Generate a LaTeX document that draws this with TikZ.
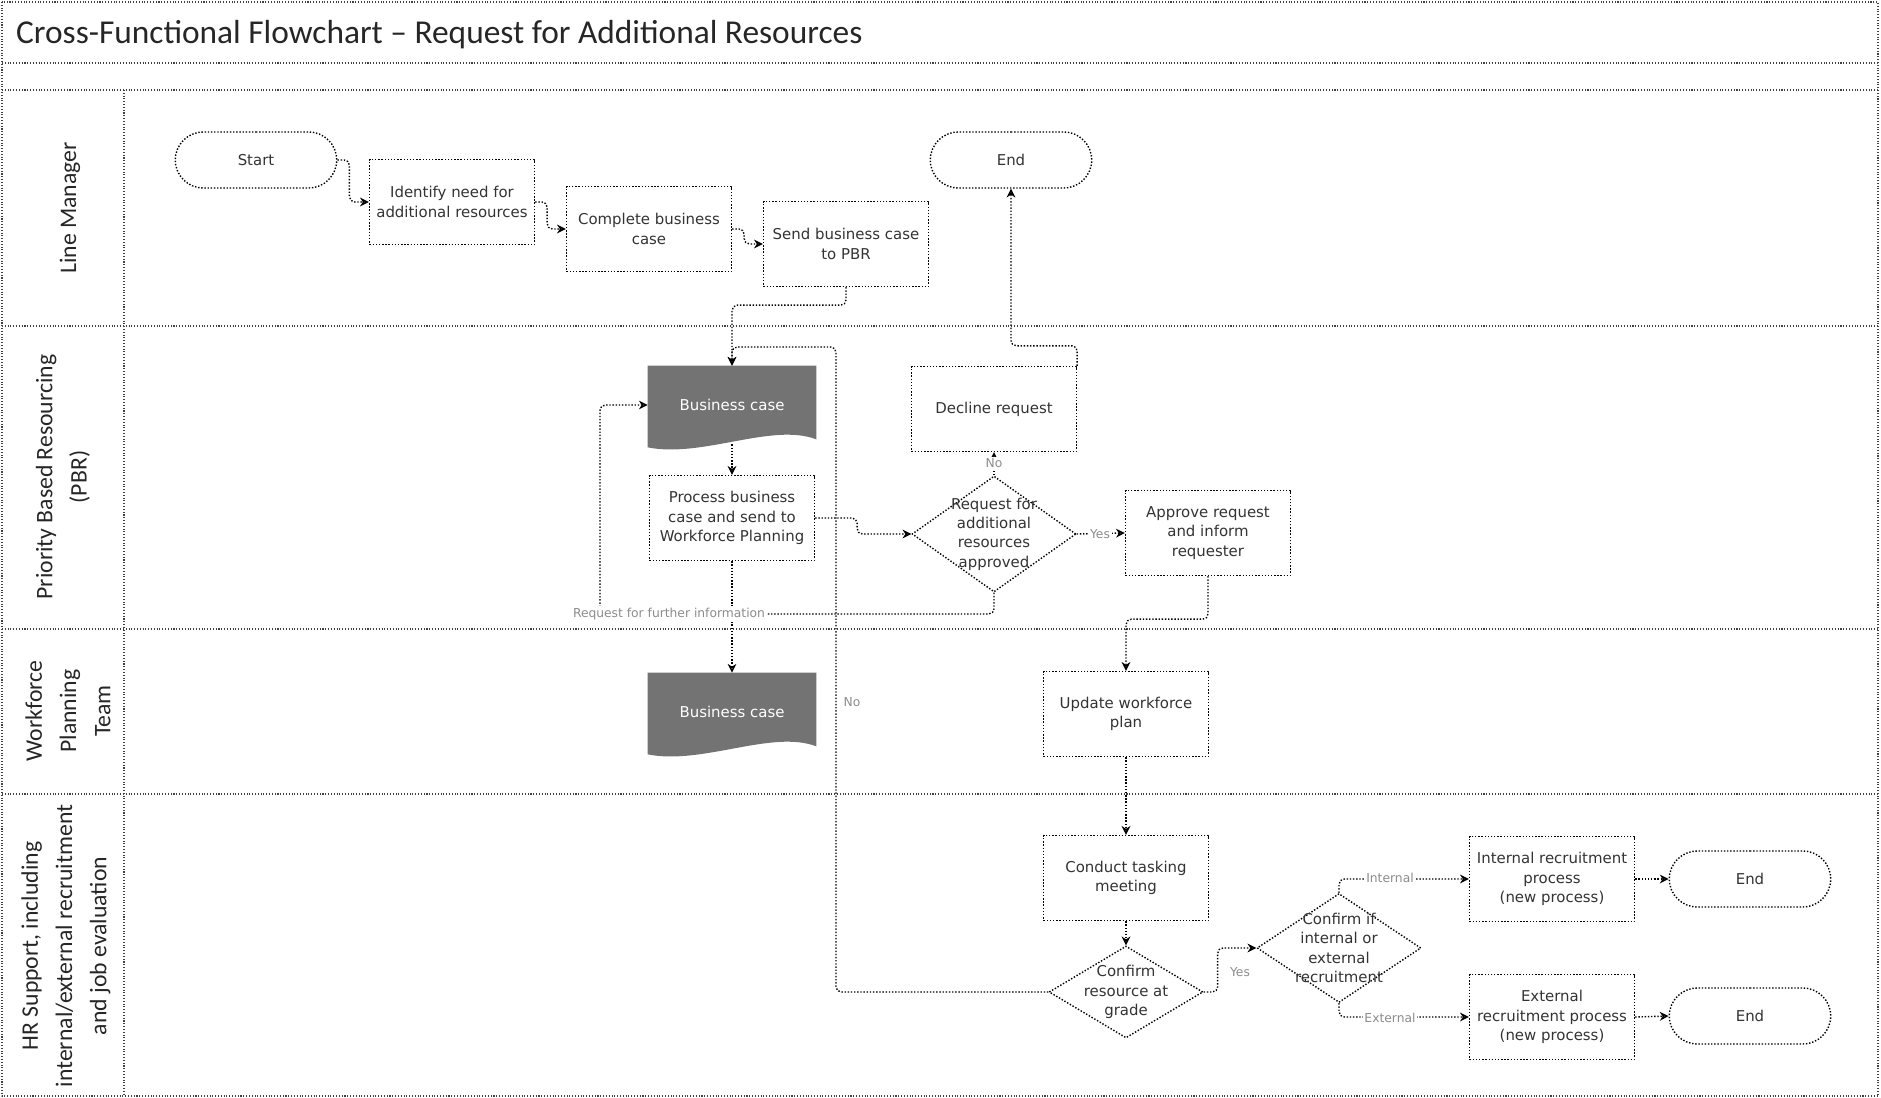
\documentclass[tikz,border=0pt]{standalone}
\usepackage{fontspec}
\setmainfont{Carlito}
\newfontfamily\nodefont{DejaVu Sans}
\usetikzlibrary{arrows.meta,shapes.geometric,shapes.misc,calc,backgrounds}

\begin{document}
\begin{tikzpicture}[x=0.02cm,y=-0.02cm,line join=round,
  >={Stealth[open,length=5pt,width=5pt]},
  lane/.style={densely dotted,line width=0.6pt,black!75},
  lanetxt/.style={rotate=90,align=center,font=\fontsize{13.5}{19.5}\selectfont,text=black!85},
  box/.style={draw,densely dotted,line width=0.8pt,minimum width=3.3cm,minimum height=1.7cm,
    inner xsep=1pt,align=center,font=\nodefont\fontsize{8.5}{11}\selectfont,text=black!80},
  term/.style={box,rounded rectangle,minimum height=1.12cm},
  choice/.style={draw,densely dotted,line width=0.8pt,diamond,inner sep=0pt,minimum width=3.28cm,minimum height=2.32cm},
  diatxt/.style={align=center,inner sep=0pt,font=\nodefont\fontsize{8.5}{11}\selectfont,text=black!80},
  doc/.style={minimum width=3.36cm,minimum height=1.56cm,font=\nodefont\fontsize{8.5}{11}\selectfont,text=white},
  flow/.style={densely dotted,line width=0.8pt,rounded corners=3pt,->},
  lbl/.style={font=\nodefont\fontsize{7}{8}\selectfont,text=black!45,fill=white,inner sep=1pt}]
\useasboundingbox (0,0) rectangle (1881,1098);

% frame and lanes
\draw[lane] (2,2) rectangle (1878,1096);
\draw[lane] (2,63) -- (1878,63);
\draw[lane] (2,90) -- (1878,90);
\draw[lane] (124,90) -- (124,1096);
\foreach \y in {326,629,794}
{
\draw[lane] (2,\y) -- (1878,\y);
}
\node[anchor=west,font=\fontsize{19}{22}\selectfont,text=black!85] (title) at (10,35) {Cross-Functional Flowchart -- Request for Additional Resources};
\node[lanetxt] (lm) at (70,208) {Line Manager};
\node[lanetxt] (pbr) at (63,477) {Priority Based Resourcing\\(PBR)};
\node[lanetxt] (wpt) at (68,711) {Workforce\\Planning\\Team};
\node[lanetxt] (hr) at (66,946) {HR Support, including\\internal/external recruitment\\and job evaluation};

% line manager
\node[term] (start) at (256,160) {Start};
\node[box] (ident) at (452,202) {Identify need for\\additional resources};
\node[box] (complete) at (649,229) {Complete business\\case};
\node[box] (send) at (846,244) {Send business case\\to PBR};
\node[term] (endA) at (1011,160) {End};

% PBR
\node[doc] (doc1) at (732,405) {Business case};
\node[box] (proc) at (732,518) {Process business\\case and send to\\Workforce Planning};
\node[box] (decline) at (994,409) {Decline request};
\node[choice,label={[diatxt]center:Request for\\additional\\resources\\approved}] (req) at (994,534) {};
\node[box] (approve) at (1208,533) {Approve request\\and inform\\requester};

% workforce planning
\node[doc] (doc2) at (732,712) {Business case};
\node[box] (update) at (1126,714) {Update workforce\\plan};

% HR support
\node[box] (conduct) at (1126,878) {Conduct tasking\\meeting};
\node[choice,minimum width=3.08cm,minimum height=1.84cm,label={[diatxt]center:Confirm\\resource at\\grade}] (grade) at (1126,992) {};
\node[choice,minimum height=2.18cm,label={[diatxt]center:Confirm if\\internal or\\external\\recruitment}] (route) at (1339,948) {};
\node[box] (intp) at (1552,879) {Internal recruitment\\process\\(new process)};
\node[box] (extp) at (1552,1017) {External\\recruitment process\\(new process)};
\node[term] (endI) at (1750,879) {End};
\node[term] (endE) at (1750,1016) {End};

\begin{scope}[on background layer]
\foreach \d in {doc1,doc2}
{
\fill[black!55] (\d.north west) -- (\d.north east) -- ($(\d.south east)+(0,-5)$)
  .. controls ($(\d.south)+(40,-22)$) and ($(\d.south)+(-30,14)$) .. ($(\d.south west)+(0,3)$) -- cycle;
}
\end{scope}

\coordinate (fbc) at (600,614);
\coordinate (ret) at (836,347);

\draw[flow] (start.east) -- ++(12,0) |- (ident.west);
\draw[flow] (ident.east) -- ++(12,0) |- (complete.west);
\draw[flow] (complete.east) -- ++(12,0) |- (send.west);
\draw[flow] (send.south) -- ++(0,18) -| (doc1.north);
\draw[flow] (doc1.south) -- (proc.north);
\draw[flow] (proc.east) -- ++(42,0) |- (req.west);
\draw[flow] (req.north) -- (decline.south);
\draw[flow] (decline.north east) -- ++(0,-20) -| (endA.south);
\draw[flow] (req.east) -- (approve.west);
\draw[flow] (req.south) |- (fbc) |- (doc1.west);
\draw[flow] (proc.south) -- (doc2.north);
\draw[flow] (approve.south) -- ++(0,43) -| (update.north);
\draw[flow] (update.south) -- (conduct.north);
\draw[flow] (conduct.south) -- (grade.north);
\draw[flow] (grade.west) -| (ret) -| (doc1.north);
\draw[flow] (grade.east) -- ++(14,0) |- (route.west);
\draw[flow] (route.north) |- (intp.west);
\draw[flow] (route.south) |- (extp.west);
\draw[flow] (intp.east) -- (endI.west);
\draw[flow] (extp.east) -- (endE.west);

\node[lbl] (no1) at (994,463) {No};
\node[lbl] (yes1) at (1100,534) {Yes};
\node[lbl] (further) at (669,614) {Request for further information};
\node[lbl] (no2) at (852,702) {No};
\node[lbl] (yes2) at (1240,972) {Yes};
\node[lbl] (int) at (1390,878) {Internal};
\node[lbl] (ext) at (1390,1018) {External};
\end{tikzpicture}
\end{document}
